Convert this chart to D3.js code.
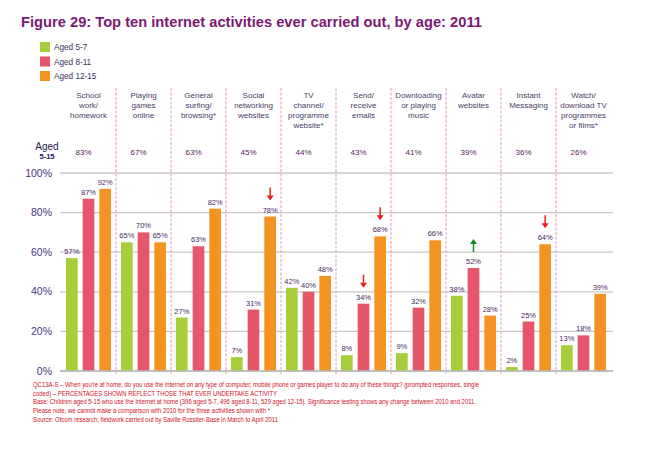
<!DOCTYPE html>
<html><head><meta charset="utf-8">
<script src="https://cdn.jsdelivr.net/npm/d3@7"></script>
<style>body{margin:0;background:#fff;} svg{display:block;font-family:"Liberation Sans",Arial,sans-serif;}</style>
</head><body><svg id="c" width="656" height="456"></svg>
<script>
const categories = [
  ["School","work/","homework"],
  ["Playing","games","online"],
  ["General","surfing/","browsing*"],
  ["Social","networking","websites"],
  ["TV","channel/","programme","website*"],
  ["Send/","receive","emails"],
  ["Downloading","or playing","music"],
  ["Avatar","websites"],
  ["Instant","Messaging"],
  ["Watch/","download TV","programmes","or films*"]
];
const seriesNames = ["Aged 5-7","Aged 8-11","Aged 12-15"];
const aged5_7   = [57,65,27,7,42,8,9,38,2,13];
const aged8_11  = [87,70,63,31,40,34,32,52,25,18];
const aged12_15 = [92,65,82,78,48,68,66,28,64,39];
const totals5_15 = [83,67,63,45,44,43,41,39,36,26];
// significance arrows: [categoryIndex, seriesIndex, direction]
const arrows = [[3,2,"down"],[5,1,"down"],[5,2,"down"],[7,1,"up"],[8,2,"down"]];
const yTicks = [0,20,40,60,80,100];
const colors = ["#a8cd3a","#e5566a","#f39422"];
const footnotes = [
  "QC13A-S – When you're at home, do you use the internet on any type of computer, mobile phone or games player to do any of these things? (prompted responses, single",
  "coded) – PERCENTAGES SHOWN REFLECT THOSE THAT EVER UNDERTAKE ACTIVITY",
  "Base: Children aged 5-15 who use the internet at home (396 aged 5-7, 496 aged 8-11, 529 aged 12-15). Significance testing shows any change between 2010 and 2011.",
  "Please note, we cannot make a comparison with 2010 for the three activities shown with *",
  "Source: Ofcom research, fieldwork carried out by Saville Rossiter-Base in March to April 2011"
];
const footnoteWidths = [446,244,443,237,245];

const series = [aged5_7, aged8_11, aged12_15];
const svg = d3.select("#c");
const idx = d3.range(categories.length);
const x = d3.scaleBand().domain(idx).range([61,611]).paddingInner(0).paddingOuter(0);
const xs = d3.scaleBand().domain([0,1,2]).range([5,50]).paddingInner(0.3);
const y = d3.scaleLinear().domain([0,100]).range([371,173]);

// title
svg.append("text").attr("x",21).attr("y",27).attr("fill","#7b1a73")
  .attr("font-size",14.7).attr("font-weight","bold")
  .text("Figure 29: Top ten internet activities ever carried out, by age: 2011");

// legend
const lg = svg.append("g");
seriesNames.forEach((n,i)=>{
  lg.append("rect").attr("x",40).attr("y",42+i*14.5).attr("width",10).attr("height",10).attr("fill",colors[i]);
  lg.append("text").attr("x",54).attr("y",50+i*14.5).attr("font-size",8.2).attr("fill","#3b2f5a").text(n);
});

// gridlines
svg.append("g").selectAll("line").data(yTicks).join("line")
  .attr("x1",60).attr("x2",613).attr("y1",d=>y(d)).attr("y2",d=>y(d))
  .attr("stroke","#c8c8c8").attr("stroke-width",1.3);

// y axis labels
svg.append("g").selectAll("text").data(yTicks).join("text")
  .attr("x",52).attr("y",d=>y(d)+3.5).attr("text-anchor","end")
  .attr("font-size",10.5).attr("fill","#45377a").text(d=>d+"%");

// dividers
svg.append("g").selectAll("line").data(idx.slice(1)).join("line")
  .attr("x1",d=>x(d)).attr("x2",d=>x(d)).attr("y1",88).attr("y2",374)
  .attr("stroke","#e89ab8").attr("stroke-width",1).attr("stroke-dasharray","3,1.5");

// category headers
const hg = svg.append("g");
categories.forEach((lines,i)=>{
  const t = hg.append("text").attr("text-anchor","middle").attr("font-size",8).attr("fill","#4a3d66");
  lines.forEach((l,j)=>t.append("tspan").attr("x",x(i)+x.bandwidth()/2).attr("y",98+j*10).text(l));
});

// Aged 5-15 totals
svg.append("text").attr("x",47).attr("y",150).attr("text-anchor","middle").attr("font-size",10).attr("fill","#2a2050").text("Aged");
svg.append("text").attr("x",47).attr("y",159).attr("text-anchor","middle").attr("font-size",7.5).attr("font-weight","bold").attr("fill","#2a2050").text("5-15");
svg.append("g").selectAll("text").data(totals5_15).join("text")
  .attr("x",(d,i)=>x(i)+x.bandwidth()/2-5).attr("y",155).attr("text-anchor","middle")
  .attr("font-size",8).attr("fill","#5a1a5a").text(d=>d+"%");

// bars
const groups = svg.append("g").selectAll("g").data(idx).join("g")
  .attr("transform",i=>`translate(${x(i)},0)`);
groups.selectAll("rect").data(i=>series.map((s,k)=>({k,v:s[i]}))).join("rect")
  .attr("x",d=>xs(d.k)).attr("width",xs.bandwidth())
  .attr("y",d=>y(d.v)).attr("height",d=>y(0)-y(d.v)).attr("fill",d=>colors[d.k]);
groups.selectAll("text").data(i=>series.map((s,k)=>({k,v:s[i]}))).join("text")
  .attr("x",d=>xs(d.k)+xs.bandwidth()/2).attr("y",d=>y(d.v)-4).attr("text-anchor","middle")
  .attr("font-size",7.5).attr("fill","#4b2a66").text(d=>d.v+"%");

// axis baseline
svg.append("line").attr("x1",60).attr("x2",613).attr("y1",y(0)).attr("y2",y(0)).attr("stroke","#b8b8b8").attr("stroke-width",1.3);

// significance arrows
arrows.forEach(([c,k,dir])=>{
  const cx = x(c)+xs(k)+xs.bandwidth()/2;
  const top = y(series[k][c]) - 29, bot = y(series[k][c]) - 16;
  const col = dir==="down" ? "#ee1c1c" : "#138a24";
  const g = svg.append("g");
  if(dir==="down"){
    g.append("line").attr("x1",cx).attr("x2",cx).attr("y1",top).attr("y2",bot-4).attr("stroke",col).attr("stroke-width",1.5);
    g.append("path").attr("d",`M${cx-3.5},${bot-5}L${cx+3.5},${bot-5}L${cx},${bot}Z`).attr("fill",col);
  } else {
    g.append("line").attr("x1",cx).attr("x2",cx).attr("y1",top+4).attr("y2",bot).attr("stroke",col).attr("stroke-width",1.5);
    g.append("path").attr("d",`M${cx-3.5},${top+5}L${cx+3.5},${top+5}L${cx},${top}Z`).attr("fill",col);
  }
});

// footnotes
const fy = [387,396,404,413,422];
svg.append("g").selectAll("text").data(footnotes).join("text")
  .attr("x",33).attr("y",(d,i)=>fy[i]).attr("font-size",6.5).attr("fill","#d0102a")
  .attr("textLength",(d,i)=>footnoteWidths[i]).attr("lengthAdjust","spacingAndGlyphs").text(d=>d);
</script></body></html>
